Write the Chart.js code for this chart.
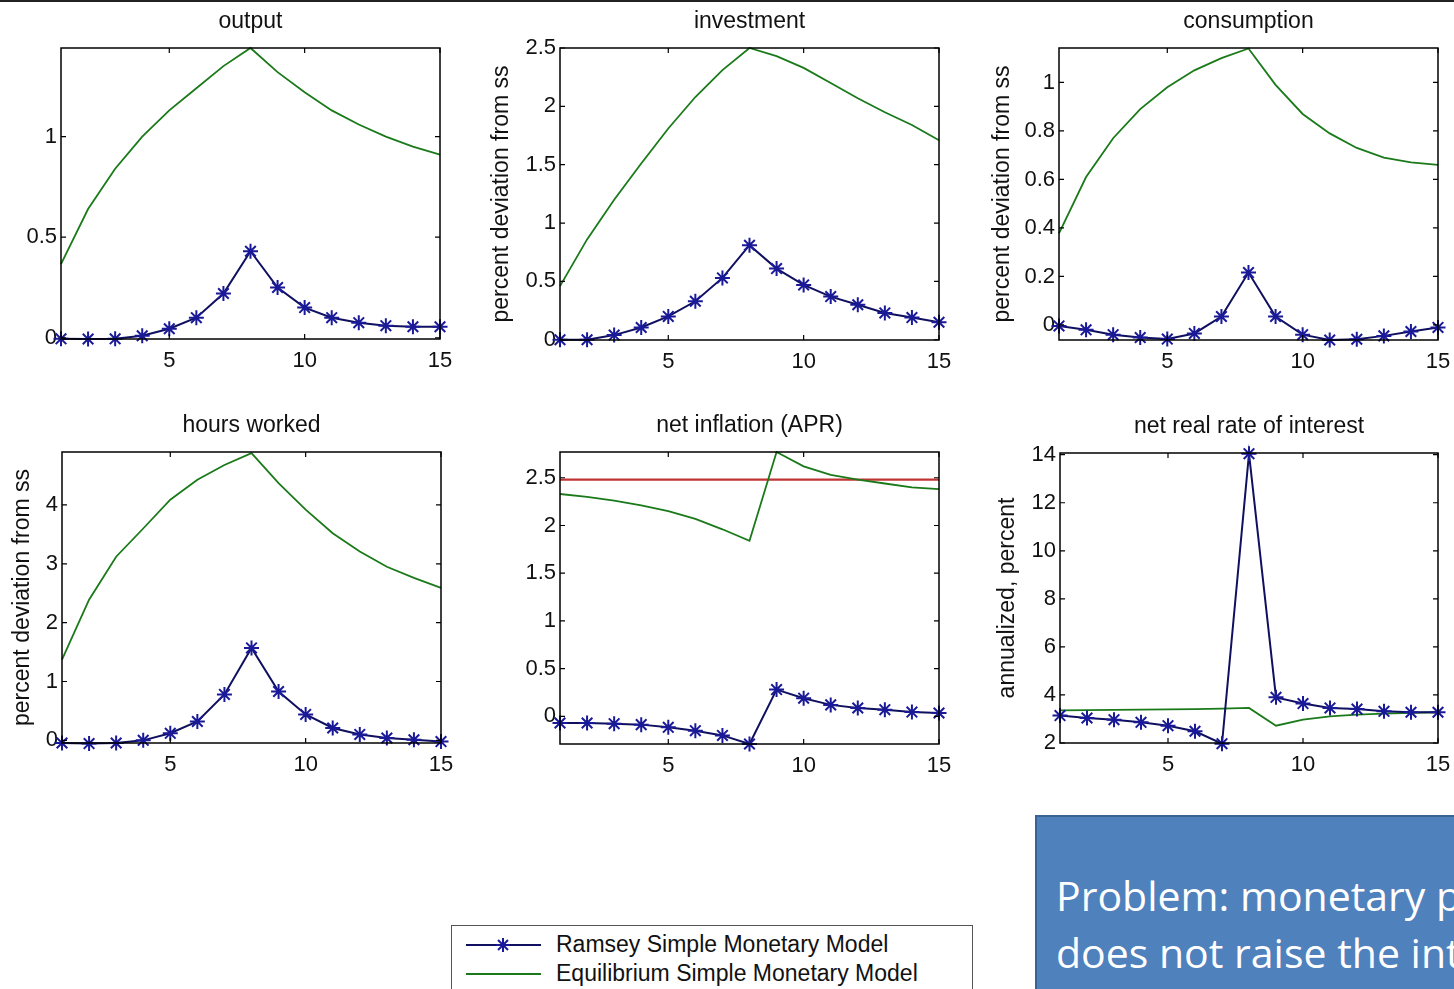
<!DOCTYPE html>
<html><head><meta charset="utf-8">
<script src="https://cdn.jsdelivr.net/npm/chart.js@4"></script>
<style>
html,body{margin:0;padding:0;background:#fff;}
body{width:1454px;height:989px;overflow:hidden;position:relative;font-family:"Liberation Sans",Arial,sans-serif;}
canvas.panel{position:absolute;}
#topline{position:absolute;left:0;top:0;width:1454px;height:2px;background:#222;}
#legend{position:absolute;left:451px;top:925px;width:520px;height:80px;border:1px solid #555;background:#fff;}
#legend .txt{position:absolute;left:104px;font-size:23px;color:#111;white-space:nowrap;line-height:26px;}
#legend svg{position:absolute;left:0;top:0;}
#note{position:absolute;left:1035px;top:815px;width:460px;height:220px;background:#4f81bd;border:2px solid #3a6394;box-sizing:border-box;overflow:hidden;}
#note div{position:absolute;left:19px;color:#fff;font-family:"Open Sans","Noto Sans",sans-serif;font-size:41px;white-space:nowrap;line-height:42px;}
</style>
</head><body>
<div id="topline"></div>
<canvas class="panel" id="p1"></canvas>
<canvas class="panel" id="p2"></canvas>
<canvas class="panel" id="p3"></canvas>
<canvas class="panel" id="p4"></canvas>
<canvas class="panel" id="p5"></canvas>
<canvas class="panel" id="p6"></canvas>
<div id="legend">
  <svg width="120" height="70">
    <line x1="14" y1="19" x2="89" y2="19" stroke="#101060" stroke-width="2"/>
    <g stroke="#1a1a99" stroke-width="2">
      <line x1="51" y1="12" x2="51" y2="26"/><line x1="44" y1="19" x2="58" y2="19"/>
      <line x1="46" y1="14" x2="56" y2="24"/><line x1="46" y1="24" x2="56" y2="14"/>
    </g>
    <line x1="14" y1="48" x2="89" y2="48" stroke="#1a7a1a" stroke-width="2"/>
  </svg>
  <div class="txt" style="top:5px">Ramsey Simple Monetary Model</div>
  <div class="txt" style="top:34px">Equilibrium Simple Monetary Model</div>
</div>
<div id="note">
  <div style="top:57px">Problem: monetary policy</div>
  <div style="top:114px">does not raise the interest rate</div>
</div>
<script>
// ---------- data ----------
const periods = [1,2,3,4,5,6,7,8,9,10,11,12,13,14,15];
const xTickValues = [5,10,15];
const seriesNames = ["Ramsey Simple Monetary Model","Equilibrium Simple Monetary Model"];

const outputRamsey = [-0.005,-0.006,-0.005,0.01,0.045,0.10,0.22,0.43,0.25,0.15,0.10,0.075,0.06,0.055,0.055];
const outputEquil  = [0.366,0.64,0.84,1.0,1.13,1.24,1.35,1.44,1.32,1.22,1.13,1.06,1.00,0.95,0.91];
const outputTicks  = [0,0.5,1];

const investRamsey = [0,0,0.04,0.105,0.20,0.33,0.53,0.81,0.61,0.47,0.37,0.30,0.23,0.19,0.15];
const investEquil  = [0.46,0.86,1.20,1.51,1.81,2.08,2.31,2.50,2.43,2.33,2.20,2.07,1.95,1.84,1.71];
const investTicks  = [0,0.5,1,1.5,2,2.5];

const consRamsey = [-0.004,-0.02,-0.04,-0.052,-0.058,-0.035,0.035,0.216,0.035,-0.04,-0.062,-0.059,-0.045,-0.027,-0.01];
const consEquil  = [0.378,0.61,0.77,0.89,0.98,1.05,1.10,1.14,0.99,0.87,0.79,0.73,0.69,0.67,0.66];
const consTicks  = [0,0.2,0.4,0.6,0.8,1];

const hoursRamsey = [-0.045,-0.055,-0.045,0,0.12,0.32,0.78,1.57,0.83,0.44,0.21,0.10,0.04,0.01,-0.02];
const hoursEquil  = [1.37,2.39,3.12,3.60,4.09,4.43,4.68,4.88,4.37,3.92,3.52,3.21,2.95,2.76,2.59];
const hoursTicks  = [0,1,2,3,4];

const inflRamsey = [-0.07,-0.07,-0.077,-0.087,-0.115,-0.15,-0.20,-0.29,0.28,0.19,0.12,0.087,0.07,0.045,0.035];
const inflEquil  = [2.33,2.30,2.26,2.21,2.15,2.07,1.96,1.84,2.77,2.62,2.53,2.48,2.44,2.40,2.38];
const inflTargetPeriods = [1,15];
const inflTarget = [2.48,2.48];
const inflTicks  = [0,0.5,1,1.5,2,2.5];

const rateRamsey = [3.14,3.04,2.97,2.86,2.72,2.49,1.97,14.04,3.90,3.64,3.46,3.41,3.32,3.28,3.28];
const rateEquil  = [3.36,3.37,3.38,3.39,3.40,3.41,3.43,3.46,2.72,2.97,3.11,3.18,3.22,3.25,3.28];
const rateTicks  = [2,4,6,8,10,12,14];

// ---------- styling / layout ----------
const FONT = '"Liberation Sans", Arial, sans-serif';
const BLUE_LINE = '#101060', BLUE_MARK = '#1a1a99', GREEN = '#1a7a1a', RED = '#c23434';

const panels = [
  {id:'p1', title:'output', ramsey:outputRamsey, equil:outputEquil, ticks:outputTicks, min:-0.006, max:1.44,
   plotL:61, plotT:48, plotW:379, plotH:291, yWidth:61, yTitle:''},
  {id:'p2', title:'investment', ramsey:investRamsey, equil:investEquil, ticks:investTicks, min:-0.002, max:2.5,
   plotL:560, plotT:48, plotW:379, plotH:292, yWidth:72, yTitle:'percent deviation from ss'},
  {id:'p3', title:'consumption', ramsey:consRamsey, equil:consEquil, ticks:consTicks, min:-0.062, max:1.142,
   plotL:1059, plotT:48, plotW:379, plotH:292, yWidth:70, yTitle:'percent deviation from ss'},
  {id:'p4', title:'hours worked', ramsey:hoursRamsey, equil:hoursEquil, ticks:hoursTicks, min:-0.045, max:4.9,
   plotL:62, plotT:452, plotW:379, plotH:291, yWidth:53, yTitle:'percent deviation from ss'},
  {id:'p5', title:'net inflation (APR)', ramsey:inflRamsey, equil:inflEquil, ticks:inflTicks, min:-0.29, max:2.77,
   plotL:560, plotT:452, plotW:379, plotH:292, yWidth:80, yTitle:'', target:true},
  {id:'p6', title:'net real rate of interest', ramsey:rateRamsey, equil:rateEquil, ticks:rateTicks, min:2, max:14.07,
   plotL:1060, plotT:453, plotW:378, plotH:290, yWidth:66, yTitle:'annualized, percent'}
];

const framePlugin = {
  id:'frame',
  afterDatasetsDraw(chart){
    const {ctx, chartArea:{left,right,top,bottom}, scales:{x,y}} = chart;
    ctx.save();
    ctx.strokeStyle = '#000';
    ctx.lineWidth = 1.5;
    ctx.strokeRect(left, top, right-left, bottom-top);
    ctx.lineWidth = 1.2;
    ctx.beginPath();
    x.ticks.forEach(t => { const px = x.getPixelForValue(t.value);
      ctx.moveTo(px,bottom); ctx.lineTo(px,bottom-5); ctx.moveTo(px,top); ctx.lineTo(px,top+5); });
    y.ticks.forEach(t => { const py = y.getPixelForValue(t.value);
      ctx.moveTo(left,py); ctx.lineTo(left+5,py); ctx.moveTo(right,py); ctx.lineTo(right-5,py); });
    ctx.stroke();
    ctx.restore();
  }
};

function pts(xs, ys){ return xs.map((p,i)=>({x:p, y:ys[i]})); }

panels.forEach(cfg => {
  const cv = document.getElementById(cfg.id);
  const W = cfg.yWidth + cfg.plotW + 20, H = 48 + cfg.plotH + 45;
  cv.width = W; cv.height = H;
  cv.style.left = (cfg.plotL - cfg.yWidth) + 'px';
  cv.style.top = (cfg.plotT - 48) + 'px';
  cv.style.width = W + 'px'; cv.style.height = H + 'px';

  const datasets = [
    {label: seriesNames[0], data: pts(periods, cfg.ramsey), borderColor: BLUE_LINE, borderWidth: 2,
     pointStyle: 'star', pointRadius: 7.5, pointBorderColor: BLUE_MARK, pointBorderWidth: 2,
     pointBackgroundColor: BLUE_MARK, tension: 0, clip: false, order: 1},
    {label: seriesNames[1], data: pts(periods, cfg.equil), borderColor: GREEN, borderWidth: 1.8,
     pointRadius: 0, tension: 0, clip: false, order: 2}
  ];
  if (cfg.target) {
    datasets.push({label:'target', data: pts(inflTargetPeriods, inflTarget), borderColor: RED, borderWidth: 2.2,
      pointRadius: 0, tension: 0, clip: false, order: 3});
  }

  new Chart(cv, {
    type: 'line',
    data: { datasets },
    options: {
      responsive: false, animation: false, events: [],
      layout: { padding: {left: 0, right: 20, top: 0, bottom: 0} },
      plugins: {
        legend: {display: false}, tooltip: {enabled: false},
        title: {display: true, text: cfg.title, fullSize: false, color: '#111',
                font: {family: FONT, size: 23, weight: 'normal', lineHeight: 1.2},
                padding: {top: 8, bottom: 12.4}}
      },
      scales: {
        x: {
          type: 'linear', min: 1, max: 15,
          grid: {display: false, drawTicks: false}, border: {display: false},
          ticks: {color: '#111', font: {family: FONT, size: 22}, padding: 9, autoSkip: false, maxRotation: 0,
                  callback: v => String(v)},
          afterBuildTicks: s => { s.ticks = xTickValues.map(v => ({value: v})); },
          afterFit: s => { s.height = 45; s.paddingLeft = 0; s.paddingRight = 0; }
        },
        y: {
          type: 'linear', min: cfg.min, max: cfg.max,
          grid: {display: false, drawTicks: false}, border: {display: false},
          ticks: {color: '#111', font: {family: FONT, size: 22}, padding: 4, autoSkip: false,
                  callback: v => String(v)},
          afterBuildTicks: s => { s.ticks = cfg.ticks.map(v => ({value: v})); },
          afterFit: s => { s.width = cfg.yWidth; s.paddingTop = 0; s.paddingBottom = 0; },
          title: {display: !!cfg.yTitle, text: cfg.yTitle, color: '#111',
                  font: {family: FONT, size: 23, lineHeight: 1.2}, padding: 0}
        }
      }
    },
    plugins: [framePlugin]
  });
});
</script>
</body></html>
